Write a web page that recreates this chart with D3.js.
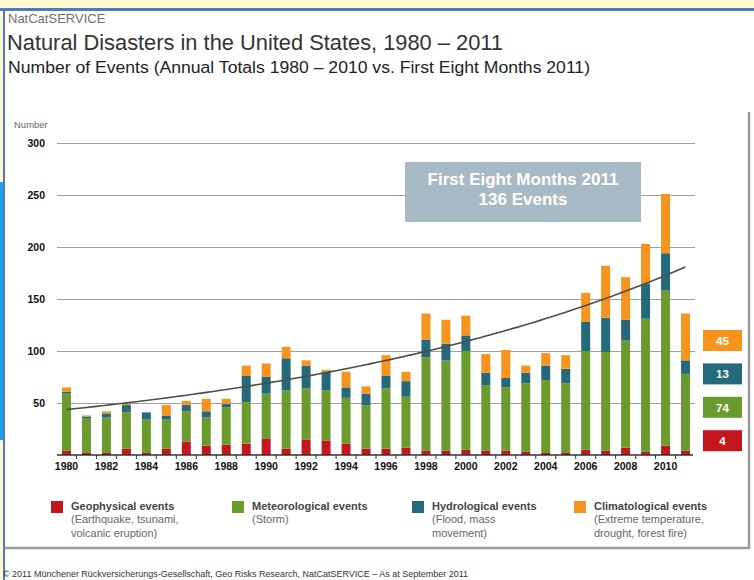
<!DOCTYPE html>
<html>
<head>
<meta charset="utf-8">
<script src="https://cdn.jsdelivr.net/npm/d3@7"></script>
<style>
  body { margin: 0; background: #fefbd3; }
  svg { display: block; font-family: "Liberation Sans", Arial, sans-serif; }
</style>
</head>
<body>
<div id="chart"></div>
<script>
// values, bottom to top of each stack
const years = [1980, 1981, 1982, 1983, 1984, 1985, 1986, 1987, 1988, 1989,
    1990, 1991, 1992, 1993, 1994, 1995, 1996, 1997, 1998, 1999,
    2000, 2001, 2002, 2003, 2004, 2005, 2006, 2007, 2008, 2009, 2010, 2011];
const geophysical    = [4, 2, 2, 6, 2, 6, 13, 9, 10, 11, 16, 6, 15, 14, 11, 6, 6, 7, 4, 4, 5, 4, 4, 3, 2, 2, 5, 4, 7, 3, 9, 4];
const meteorological = [55, 33, 34, 35, 32, 28, 29, 27, 36, 40, 43, 56, 49, 48, 44, 42, 58, 49, 90, 87, 95, 63, 61, 66, 70, 67, 95, 95, 103, 128, 149, 74];
const hydrological   = [2, 2, 4, 7, 7, 4, 6, 6, 3, 25, 16, 31, 22, 18, 10, 11, 12, 15, 17, 16, 15, 12, 9, 10, 14, 14, 28, 33, 20, 34, 36, 13];
const climatological = [4, 1, 2, 1, 0, 10, 4, 12, 5, 10, 13, 11, 5, 2, 15, 7, 20, 9, 25, 23, 19, 18, 27, 7, 12, 13, 28, 50, 41, 38, 57, 45];

const yTicks = [50, 100, 150, 200, 250, 300];
const xTickYears = [1980, 1982, 1984, 1986, 1988, 1990, 1992, 1994, 1996, 1998, 2000, 2002, 2004, 2006, 2008, 2010];

const seriesKeys = ['geo', 'met', 'hyd', 'cli'];
const seriesColors = {geo: '#c3161d', met: '#6c9b2d', hyd: '#256a7b', cli: '#f7941e'};
const legendItems = [
    {key: 'geo', title: 'Geophysical events', lines: ['(Earthquake, tsunami,', 'volcanic eruption)'], x: 51},
    {key: 'met', title: 'Meteorological events', lines: ['(Storm)'], x: 232},
    {key: 'hyd', title: 'Hydrological events', lines: ['(Flood, mass', 'movement)'], x: 412},
    {key: 'cli', title: 'Climatological events', lines: ['(Extreme temperature,', 'drought, forest fire)'], x: 574}
];

let rows = years.map((yr, i) => ({
    year: yr,
    geo: geophysical[i],
    met: meteorological[i],
    hyd: hydrological[i],
    cli: climatological[i]
}));
rows.forEach(d => { d.total = d.geo + d.met + d.hyd + d.cli; });

let width = 754, height = 580;

let svg = d3.select('#chart').append('svg')
    .attr('width', width)
    .attr('height', height);

// page frame
svg.append('rect').attr('x', 0).attr('y', 0).attr('width', width).attr('height', height).attr('fill', '#fefbd3');
svg.append('rect').attr('x', 5).attr('y', 11).attr('width', width - 5).attr('height', height - 11).attr('fill', '#ffffff');
svg.append('rect').attr('x', 0).attr('y', 8).attr('width', width).attr('height', 3).attr('fill', '#5577bf');
svg.append('rect').attr('x', 3).attr('y', 8).attr('width', 2).attr('height', height - 8).attr('fill', '#5577bf');
svg.append('rect').attr('x', 0).attr('y', 182).attr('width', 3).attr('height', 258).attr('fill', '#19a0e6');

// panel border (right and bottom)
svg.append('path')
    .attr('d', 'M749,112 V548 H5')
    .attr('fill', 'none')
    .attr('stroke', '#9a9a9a')
    .attr('stroke-width', 2.5);

// titles
svg.append('text').attr('x', 8).attr('y', 23).attr('font-size', 13).attr('fill', '#6f6f6f').text('NatCatSERVICE');
svg.append('text').attr('x', 7).attr('y', 50).attr('font-size', 21.5)
    .attr('textLength', 496).attr('lengthAdjust', 'spacingAndGlyphs')
    .attr('fill', '#333').text('Natural Disasters in the United States, 1980 \u2013 2011');
svg.append('text').attr('x', 8).attr('y', 73).attr('font-size', 16)
    .attr('textLength', 582).attr('lengthAdjust', 'spacingAndGlyphs')
    .attr('fill', '#222').text('Number of Events (Annual Totals 1980 \u2013 2010 vs. First Eight Months 2011)');

let margin = {left: 57, right: 59, top: 143, bottom: 125};
let xScale = d3.scaleBand()
    .domain(years)
    .range([margin.left, width - margin.right])
    .paddingInner(0.55)
    .paddingOuter(0.25);
let yScale = d3.scaleLinear()
    .domain([0, 300])
    .range([height - margin.bottom, margin.top]);

svg.append('text').attr('x', 14).attr('y', 128).attr('font-size', 9.5).attr('fill', '#666').text('Number');

let yAxis = d3.axisLeft(yScale)
    .tickValues(yTicks)
    .tickSize(-(width - margin.left - margin.right))
    .tickPadding(12);

let gy = svg.append('g')
    .attr('class', 'y axis')
    .attr('transform', 'translate(' + margin.left + ',0)')
    .call(yAxis);
gy.select('.domain').remove();
gy.selectAll('line').attr('stroke', '#a0a0a0').attr('stroke-width', 1);
gy.selectAll('text')
    .attr('font-size', 10.5)
    .attr('font-weight', 'bold')
    .attr('font-family', '"Liberation Sans Narrow", "Liberation Sans", sans-serif')
    .attr('fill', '#111');

// stacked bars
let stack = d3.stack().keys(seriesKeys);
let layers = stack(rows);

svg.append('g')
    .attr('class', 'series')
    .selectAll('g')
    .data(layers)
    .join('g')
    .attr('fill', d => seriesColors[d.key])
    .selectAll('rect')
    .data(d => d)
    .join('rect')
    .attr('x', d => xScale(d.data.year))
    .attr('width', xScale.bandwidth())
    .attr('y', d => yScale(d[1]))
    .attr('height', d => yScale(d[0]) - yScale(d[1]));

// trend: exponential least-squares fit of the totals
let n = rows.length;
let tMean = d3.mean(rows, (d, i) => i);
let lMean = d3.mean(rows, d => Math.log(d.total));
let sxy = d3.sum(rows, (d, i) => (i - tMean) * (Math.log(d.total) - lMean));
let sxx = d3.sum(rows, (d, i) => (i - tMean) * (i - tMean));
let slope = sxy / sxx;
let icpt = lMean - slope * tMean;
let trendPts = d3.range(0, (n - 1) * 4 + 1).map(k => k / 4);
let half = xScale.bandwidth() / 2;
let xAt = t => xScale(years[0]) + half + t * xScale.step();

svg.append('path')
    .datum(trendPts)
    .attr('fill', 'none')
    .attr('stroke', '#4d4d4d')
    .attr('stroke-width', 1.6)
    .attr('d', d3.line()
        .x(t => xAt(t))
        .y(t => yScale(Math.exp(icpt + slope * t)))
        .curve(d3.curveMonotoneX));

// x axis
let baseY = yScale(0);
svg.append('line')
    .attr('x1', margin.left).attr('x2', width - margin.right - 2)
    .attr('y1', baseY).attr('y2', baseY)
    .attr('stroke', '#333').attr('stroke-width', 1.5);

svg.append('g')
    .selectAll('line')
    .data(years.slice(0, -1))
    .join('line')
    .attr('x1', d => xScale(d) + xScale.bandwidth() + (xScale.step() - xScale.bandwidth()) / 2)
    .attr('x2', d => xScale(d) + xScale.bandwidth() + (xScale.step() - xScale.bandwidth()) / 2)
    .attr('y1', baseY).attr('y2', baseY + 4)
    .attr('stroke', '#333');

let xAxis = d3.axisBottom(xScale)
    .tickValues(xTickYears)
    .tickSize(0)
    .tickPadding(8);
let gx = svg.append('g')
    .attr('class', 'x axis')
    .attr('transform', 'translate(0,' + baseY + ')')
    .call(xAxis);
gx.select('.domain').remove();
gx.selectAll('text')
    .attr('font-size', 10.5)
    .attr('font-weight', 'bold')
    .attr('font-family', '"Liberation Sans Narrow", "Liberation Sans", sans-serif')
    .attr('fill', '#111');

// annotation box
let last = rows[rows.length - 1];
let note = svg.append('g');
note.append('rect')
    .attr('x', 405).attr('y', 162).attr('width', 236).attr('height', 60)
    .attr('fill', '#a8bac6');
note.append('text')
    .attr('x', 523).attr('y', 185)
    .attr('text-anchor', 'middle')
    .attr('font-size', 17).attr('font-weight', 'bold').attr('fill', '#fff')
    .text('First Eight Months ' + last.year);
note.append('text')
    .attr('x', 523).attr('y', 205)
    .attr('text-anchor', 'middle')
    .attr('font-size', 17).attr('font-weight', 'bold').attr('fill', '#fff')
    .text(last.total + ' Events');

// value boxes for 2011
let boxKeys = ['cli', 'hyd', 'met', 'geo'];
let boxes = svg.append('g')
    .selectAll('g')
    .data(boxKeys)
    .join('g')
    .attr('transform', (k, i) => 'translate(703,' + (330 + i * 33.4) + ')');
boxes.append('rect')
    .attr('width', 39).attr('height', 21)
    .attr('fill', k => seriesColors[k]);
boxes.append('text')
    .attr('x', 19.5).attr('y', 15)
    .attr('text-anchor', 'middle')
    .attr('font-size', 11.5).attr('font-weight', 'bold')
    .attr('font-family', '"Liberation Sans Narrow", "Liberation Sans", sans-serif')
    .attr('fill', '#fff')
    .text(k => last[k]);

// legend
let legend = svg.append('g')
    .selectAll('g')
    .data(legendItems)
    .join('g')
    .attr('transform', d => 'translate(' + d.x + ',501)');
legend.append('rect')
    .attr('width', 12).attr('height', 12)
    .attr('fill', d => seriesColors[d.key]);
legend.append('text')
    .attr('x', 20).attr('y', 9)
    .attr('font-size', 11).attr('font-weight', 'bold').attr('fill', '#444')
    .text(d => d.title);
legend.each(function(d) {
    d3.select(this).selectAll('text.sub')
        .data(d.lines)
        .join('text')
        .attr('class', 'sub')
        .attr('x', 20).attr('y', (l, i) => 22 + i * 13.5)
        .attr('font-size', 11).attr('fill', '#666')
        .text(l => l);
});

svg.append('text')
    .attr('x', 3).attr('y', 577)
    .attr('font-size', 9).attr('fill', '#333')
    .attr('textLength', 465).attr('lengthAdjust', 'spacingAndGlyphs')
    .text('\u00a9 2011 M\u00fcnchener R\u00fcckversicherungs-Gesellschaft, Geo Risks Research, NatCatSERVICE \u2013 As at September 2011');
</script>
</body>
</html>
